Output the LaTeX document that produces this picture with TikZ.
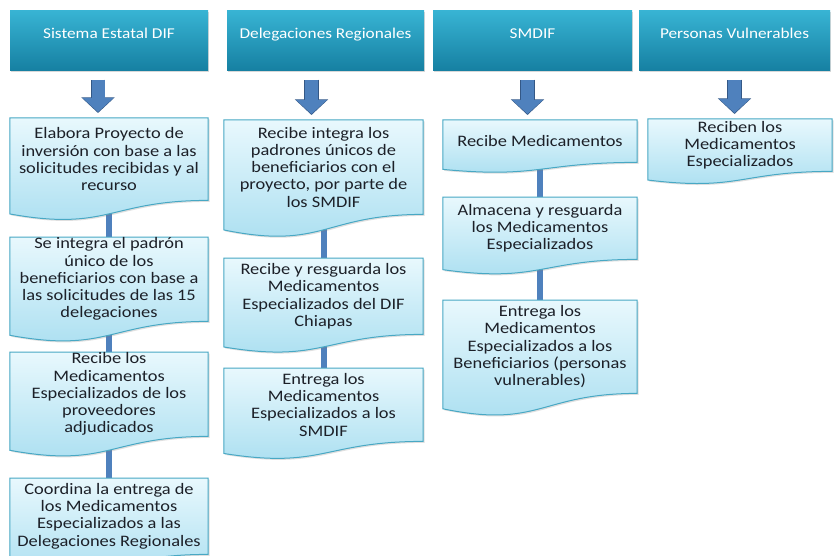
\documentclass[tikz,border=0pt]{standalone}
\usepackage{fontspec}
\setmainfont{Carlito}[FakeStretch=1.15]
\usepackage{tikz}
\usetikzlibrary{calc}
\usetikzlibrary{arrows.meta}
\usetikzlibrary{backgrounds}
\usetikzlibrary{shadows}

\definecolor{headtop}{RGB}{56,180,212}
\definecolor{headbot}{RGB}{22,128,162}
\definecolor{boxtop}{RGB}{232,248,253}
\definecolor{boxbot}{RGB}{168,222,240}
\definecolor{boxline}{RGB}{72,168,196}
\definecolor{arrowblue}{RGB}{79,129,189}
\definecolor{arrowline}{RGB}{52,88,134}
\definecolor{textdark}{RGB}{28,32,40}

\begin{document}
\begin{tikzpicture}[x=1pt, y=-1pt,
	headbox/.style={anchor=north, minimum height=60pt, inner sep=0pt, text=white,
		font=\fontsize{15}{17}\selectfont, text height=10pt, text depth=14pt,
		top color=headtop, bottom color=headbot,
		drop shadow={shadow xshift=1pt, shadow yshift=-2pt, opacity=0.3}},
	docbox/.style={anchor=north, align=center, inner sep=0pt, text=textdark,
		font=\fontsize{16}{17.2}\selectfont},
	docshape/.style={draw=boxline, line width=1pt, top color=boxtop, bottom color=boxbot,
		drop shadow={shadow xshift=1.5pt, shadow yshift=-1.5pt, opacity=0.25}},
	bar/.style={draw=arrowblue, line width=6pt},
	arrowedge/.style={draw=arrowline, line width=14.6pt, -{Triangle[length=15.6pt, width=32.4pt]},
		shorten <=9.2pt, shorten >=5pt},
	arrowbody/.style={draw=arrowblue, line width=13pt, -{Triangle[length=14pt, width=30pt]},
		shorten <=10pt, shorten >=6pt}]

			% column heads
			\node[headbox, minimum width=198pt] (hSed) at (109,10) {Sistema Estatal DIF};
			\node[headbox, minimum width=197pt] (hDel) at (325.5,10) {Delegaciones Regionales};
			\node[headbox, minimum width=199pt] (hSmd) at (532.5,10) {SMDIF};
			\node[headbox, minimum width=191pt] (hPv) at (734.5,10) {Personas Vulnerables};

			% Sistema Estatal DIF
			\node[docbox, minimum width=198pt, minimum height=82pt] (sed1) at (109,118)
				{Elabora Proyecto de\\inversión con base a las\\solicitudes recibidas y al\\recurso};
			\node[docbox, minimum width=198pt, minimum height=84pt] (sed2) at (109,237)
				{Se integra el padrón\\único de los\\beneficiarios con base a\\las solicitudes de las 15\\delegaciones};
			\node[docbox, minimum width=198pt, minimum height=84pt] (sed3) at (109,352)
				{Recibe los\\Medicamentos\\Especializados de los\\proveedores\\adjudicados};
			\node[docbox, minimum width=198pt, minimum height=76pt] (sed4) at (109,478)
				{Coordina la entrega de\\los Medicamentos\\Especializados a las\\Delegaciones Regionales};

			% Delegaciones Regionales
			\node[docbox, minimum width=199pt, minimum height=94pt] (del1) at (323.5,120)
				{Recibe integra los\\padrones únicos de\\beneficiarios con el\\proyecto, por parte de\\los SMDIF};
			\node[docbox, minimum width=199pt, minimum height=76pt] (del2) at (323.5,258)
				{Recibe y resguarda los\\Medicamentos\\Especializados del DIF\\Chiapas};
			\node[docbox, minimum width=199pt, minimum height=73pt] (del3) at (323.5,368)
				{Entrega los\\Medicamentos\\Especializados a los\\SMDIF};

			% SMDIF
			\node[docbox, minimum width=194pt, minimum height=42pt] (smd1) at (540,120)
				{Recibe Medicamentos};
			\node[docbox, minimum width=194pt, minimum height=62pt] (smd2) at (540,197)
				{Almacena y resguarda\\los Medicamentos\\Especializados};
			\node[docbox, minimum width=194pt, minimum height=93pt] (smd3) at (540,300)
				{Entrega los\\Medicamentos\\Especializados a los\\Beneficiarios (personas\\vulnerables)};

			% Personas Vulnerables
			\node[docbox, minimum width=184pt, minimum height=52pt] (pv1) at (740,119)
				{Reciben los\\Medicamentos\\Especializados};

			\begin{pgfonlayer}{background}
				\fill[white] (0,0) rectangle (834,556);
				\foreach \a/\b in {sed1/sed2, sed2/sed3, sed3/sed4, del1/del2, del2/del3, smd1/smd2, smd2/smd3}
					\draw[bar] (\a) -- (\b);
				\foreach \n in {sed1, sed2, sed3, sed4, del1, del2, del3, smd1, smd2, smd3, pv1}
					\path[docshape] (\n.north west) -- (\n.north east) -- (\n.south east)
						.. controls (\n.south) and ($(\n.south)!-0.381!(\n.north)$)
						.. ($(\n.south west)!-0.1646!(\n.north west)$) -- cycle;
			\end{pgfonlayer}

			% block arrows under the heads
			\foreach \h/\b/\dx in {hSed/sed1/-11, hDel/del1/-14, hSmd/smd1/-5, hPv/pv1/0} {
				\draw[arrowedge] ([xshift=\dx pt]\h.south) -- ([xshift=\dx pt]\h.south |- \b.north);
				\draw[arrowbody] ([xshift=\dx pt]\h.south) -- ([xshift=\dx pt]\h.south |- \b.north);
			}

			\pgfresetboundingbox
			\useasboundingbox (0,0) rectangle (834,556);
		\end{tikzpicture}
\end{document}
